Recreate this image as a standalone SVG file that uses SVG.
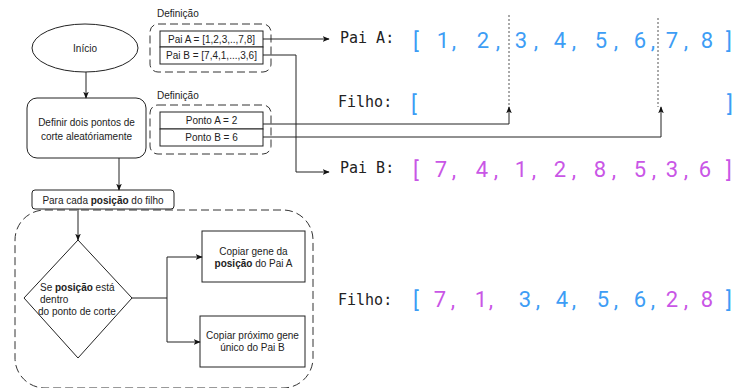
<svg xmlns="http://www.w3.org/2000/svg" width="735" height="388" viewBox="0 0 735 388">
  <defs>
    <marker id="arrow" viewBox="0 0 10 10" refX="9" refY="5" markerWidth="7" markerHeight="7" orient="auto" markerUnits="userSpaceOnUse">
      <path d="M0,1 L10,5 L0,9 L2.5,5 Z" fill="#111"/>
    </marker>
    <style>
      .t { font-family: "Liberation Sans", Arial, sans-serif; font-size: 10px; fill: #222; }
      .c { text-anchor: middle; }
      .shape { fill: #fff; stroke: #222; stroke-width: 1; }
      .dash { fill: none; stroke: #333; stroke-width: 1; stroke-dasharray: 8 4; }
      .edge { fill: none; stroke: #222; stroke-width: 1; }
      .arr { marker-end: url(#arrow); }
      .dot { fill: none; stroke: #555; stroke-width: 1; stroke-dasharray: 2 2; }
      .lbl { font-family: "DejaVu Sans Mono", "Liberation Mono", monospace; font-size: 15px; fill: #222; }
      .d { font-family: Roboto, "Noto Sans", sans-serif; font-size: 22px; text-anchor: middle; }
      .b { fill: #3d9df5; }
      .p { fill: #c956e6; }
    </style>
  </defs>

  <!-- flowchart nodes -->
  <g id="inicio">
    <ellipse class="shape" cx="85" cy="48" rx="53" ry="24"/>
    <text class="t c" x="85" y="52">Início</text>
  </g>

  <g id="definir-pontos">
    <rect class="shape" x="27" y="98" width="119" height="60" rx="10"/>
    <text class="t c" x="86.5" y="126">Definir dois pontos de</text>
    <text class="t c" x="86.5" y="140">corte aleatóriamente</text>
  </g>

  <g id="def-pais">
    <text class="t" x="157" y="17">Definição</text>
    <rect class="dash" x="150" y="24" width="121" height="48" rx="8"/>
    <rect class="shape" x="160" y="31" width="103" height="16"/>
    <rect class="shape" x="160" y="47" width="103" height="17"/>
    <text class="t c" x="211.5" y="42.5">Pai A = [1,2,3,..,7,8]</text>
    <text class="t c" x="211.5" y="59">Pai B = [7,4,1,...,3,6]</text>
  </g>

  <g id="def-pontos">
    <text class="t" x="157" y="99">Definição</text>
    <rect class="dash" x="150" y="105" width="121" height="49" rx="8"/>
    <rect class="shape" x="160" y="112" width="103" height="17"/>
    <rect class="shape" x="160" y="129" width="103" height="17"/>
    <text class="t c" x="211.5" y="124">Ponto A = 2</text>
    <text class="t c" x="211.5" y="141">Ponto B = 6</text>
  </g>

  <g id="para-cada">
    <rect class="shape" x="32" y="190" width="142" height="19" rx="3"/>
    <text class="t c" x="103" y="203.5">Para cada <tspan font-weight="bold">posição</tspan> do filho</text>
  </g>

  <g id="laco">
    <rect class="dash" x="15" y="210" width="298" height="178" rx="30"/>
  </g>

  <g id="decisao">
    <path class="shape" d="M78,240 L132,298 L78,358 L24,298 Z"/>
    <text class="t" x="40" y="291">Se <tspan font-weight="bold">posição</tspan> está</text>
    <text class="t" x="40" y="303">dentro</text>
    <text class="t" x="38" y="315">do ponto de corte</text>
  </g>

  <g id="copiar-pai-a">
    <rect class="shape" x="202" y="231" width="103" height="51"/>
    <text class="t c" x="253.5" y="255">Copiar gene da</text>
    <text class="t c" x="253.5" y="267"><tspan font-weight="bold">posição</tspan> do Pai A</text>
  </g>

  <g id="copiar-pai-b">
    <rect class="shape" x="200" y="316" width="105" height="51"/>
    <text class="t c" x="252.5" y="339">Copiar próximo gene</text>
    <text class="t c" x="252.5" y="351">único do Pai B</text>
  </g>

  <!-- connectors -->
  <g id="connectors">
    <path class="edge arr" d="M86,72 V98"/>
    <path class="edge arr" d="M119,158 V190"/>
    <path class="edge arr" d="M78,209 V240"/>
    <path class="edge arr" d="M132,298 H167 V257 H202"/>
    <path class="edge arr" d="M167,298 V342 H200"/>
    <path class="edge arr" d="M263,39 H329"/>
    <path class="edge arr" d="M263,55 H296 V172 H329"/>
    <path class="edge arr" d="M263,124 H509 V107"/>
    <path class="edge arr" d="M263,137 H661 V107"/>
    <path class="dot" d="M509,15 V107"/>
    <path class="dot" d="M658,18 V107"/>
  </g>

  <!-- arrays -->
  <g id="pai-a">
    <text class="lbl" x="340" y="43">Pai A:</text>
    <g class="d b">
      <text x="416" y="49">[</text>
      <text x="443" y="48">1</text><text x="454" y="48">,</text>
      <text x="483" y="48">2</text><text x="498" y="48">,</text>
      <text x="521" y="48">3</text><text x="536" y="48">,</text>
      <text x="560" y="48">4</text><text x="574" y="48">,</text>
      <text x="601" y="48">5</text><text x="616" y="48">,</text>
      <text x="640" y="48">6</text><text x="653" y="48">,</text>
      <text x="672" y="48">7</text><text x="686" y="48">,</text>
      <text x="707" y="48">8</text>
      <text x="729" y="49">]</text>
    </g>
  </g>

  <g id="filho-vazio">
    <text class="lbl" x="338" y="107">Filho:</text>
    <g class="d b">
      <text x="414" y="112">[</text>
      <text x="730" y="112">]</text>
    </g>
  </g>

  <g id="pai-b">
    <text class="lbl" x="340" y="173">Pai B:</text>
    <g class="d p">
      <text x="416" y="178">[</text>
      <text x="441" y="177">7</text><text x="454" y="177">,</text>
      <text x="482" y="177">4</text><text x="496" y="177">,</text>
      <text x="521" y="177">1</text><text x="534" y="177">,</text>
      <text x="560" y="177">2</text><text x="574" y="177">,</text>
      <text x="600" y="177">8</text><text x="614" y="177">,</text>
      <text x="640" y="177">5</text><text x="654" y="177">,</text>
      <text x="672" y="177">3</text><text x="686" y="177">,</text>
      <text x="705" y="177">6</text>
      <text x="729" y="178">]</text>
    </g>
  </g>

  <g id="filho">
    <text class="lbl" x="338" y="305">Filho:</text>
    <g class="d">
      <text class="b" x="416" y="308">[</text>
      <text class="p" x="440" y="307">7</text><text class="p" x="453" y="307">,</text>
      <text class="p" x="481" y="307">1</text><text class="p" x="491" y="307">,</text>
      <text class="b" x="525" y="307">3</text><text class="b" x="538" y="307">,</text>
      <text class="b" x="562" y="307">4</text><text class="b" x="574" y="307">,</text>
      <text class="b" x="603" y="307">5</text><text class="b" x="616" y="307">,</text>
      <text class="b" x="640" y="307">6</text><text class="b" x="653" y="307">,</text>
      <text class="p" x="672" y="307">2</text><text class="p" x="686" y="307">,</text>
      <text class="p" x="707" y="307">8</text>
      <text class="b" x="729" y="308">]</text>
    </g>
  </g>
</svg>
